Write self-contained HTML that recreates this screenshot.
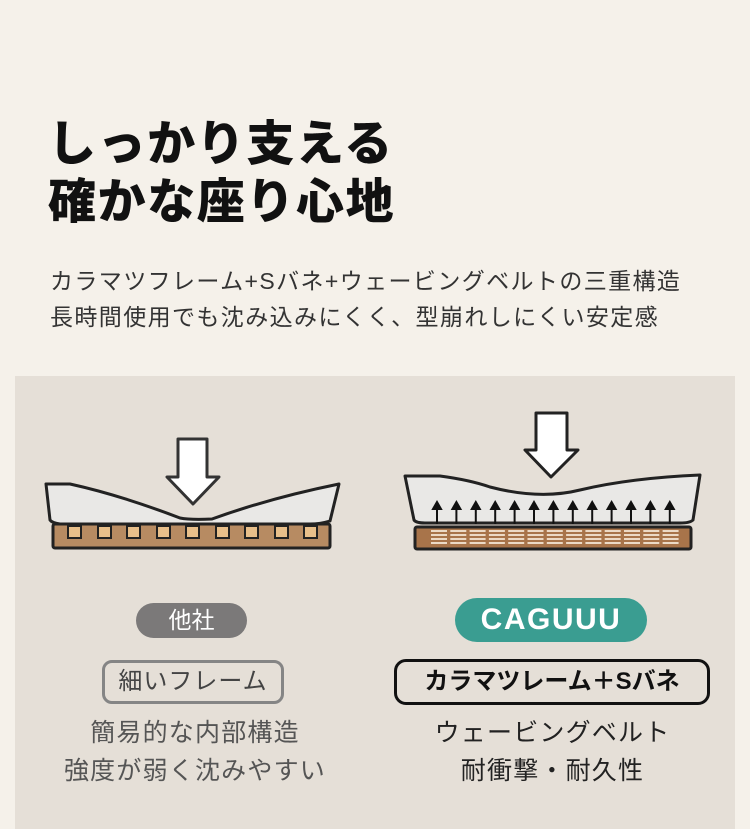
<!DOCTYPE html>
<html><head><meta charset="utf-8"><style>
*{margin:0;padding:0;box-sizing:border-box}
body{width:750px;height:829px;background:#f5f1ea;position:relative;overflow:hidden;font-family:"Liberation Sans","Noto Sans CJK JP",sans-serif}
.a{position:absolute;white-space:nowrap}
h1{position:absolute;left:48px;top:116px;font-size:48px;line-height:58px;font-weight:900;color:#111;letter-spacing:1.6px}
.sub{left:50px;font-size:23px;color:#333;letter-spacing:1.4px}
.panel{position:absolute;left:15px;top:376px;width:720px;height:453px;background:#e5dfd7}
.c{text-align:center}
</style></head><body>
<h1>しっかり支える<br>確かな座り心地</h1>
<div class="a sub" style="top:262px">カラマツフレーム+Sバネ+ウェービングベルトの三重構造</div>
<div class="a sub" style="top:298px">長時間使用でも沈み込みにくく、型崩れしにくい安定感</div>
<div class="panel"></div>
<svg class="a" style="left:0;top:0" width="750" height="829">
<rect x="53" y="524" width="277" height="24" rx="2" fill="#b78b62" stroke="#222" stroke-width="3"/>
<g fill="#e8bf8a" stroke="#222" stroke-width="2">
<rect x="68" y="526" width="13" height="12"/><rect x="98" y="526" width="13" height="12"/><rect x="127" y="526" width="13" height="12"/><rect x="157" y="526" width="13" height="12"/><rect x="186" y="526" width="13" height="12"/><rect x="216" y="526" width="13" height="12"/><rect x="245" y="526" width="13" height="12"/><rect x="275" y="526" width="13" height="12"/><rect x="304" y="526" width="13" height="12"/>
</g>
<path d="M46 484 L70 484 Q120 495 180 518 Q190 520 212 519 Q270 498 339 484 L330 521 Q320 524 310 524 L60 524 Q52 523 50 520 Z" fill="#e9e8e6" stroke="#222" stroke-width="3" stroke-linejoin="round"/>
<path d="M178 439 L207 439 L207 477 L219 477 L193 504 L167 477 L178 477 Z" fill="#fff" stroke="#333" stroke-width="3" stroke-linejoin="round"/>
<rect x="415" y="527" width="276" height="22" rx="2" fill="#a8744a" stroke="#222" stroke-width="3"/>
<g stroke="#f5e8d8" stroke-width="1.8" fill="none">
<g id="sp"><path d="M431 531h16M431 535h16M431 539h16M431 543h16"/></g>
<use href="#sp" x="19.3"/><use href="#sp" x="38.6"/><use href="#sp" x="57.9"/><use href="#sp" x="77.2"/><use href="#sp" x="96.5"/><use href="#sp" x="115.8"/><use href="#sp" x="135.1"/><use href="#sp" x="154.4"/><use href="#sp" x="173.7"/><use href="#sp" x="193"/><use href="#sp" x="212.3"/><use href="#sp" x="231.6"/>
</g>
<path d="M405 476 L440 476 Q470 480 490 487 Q540 500 580 490 Q630 478 700 475 L693 520 Q690 523 680 523 L425 523 Q416 523 414 520 Z" fill="#e9e8e6" stroke="#222" stroke-width="3" stroke-linejoin="round"/>
<g stroke="#111" stroke-width="2" fill="#111">
<g id="ar"><line x1="437" y1="507" x2="437" y2="524"/><path d="M433 509 L437 502 L441 509 Z"/></g>
<use href="#ar" x="19.4"/><use href="#ar" x="38.8"/><use href="#ar" x="58.2"/><use href="#ar" x="77.6"/><use href="#ar" x="97"/><use href="#ar" x="116.4"/><use href="#ar" x="135.8"/><use href="#ar" x="155.2"/><use href="#ar" x="174.6"/><use href="#ar" x="194"/><use href="#ar" x="213.4"/><use href="#ar" x="232.8"/>
</g>
<path d="M536 413 L567 413 L567 450 L578 450 L551 477 L525 450 L536 450 Z" fill="#fff" stroke="#222" stroke-width="3" stroke-linejoin="round"/>
</svg>
<div class="a c" style="left:136px;top:603px;width:111px;height:35px;border-radius:18px;background:#7b7979;color:#fff;font-size:23px;line-height:35px">他社</div>
<div class="a c" style="left:455px;top:598px;width:192px;height:44px;border-radius:22px;background:#3a9d91;color:#fff;font-size:30px;font-weight:900;line-height:44px;letter-spacing:1.5px">CAGUUU</div>
<div class="a c" style="left:102px;top:660px;width:182px;height:44px;border-radius:10px;border:3px solid #858585;color:#444;font-size:24px;line-height:38px;letter-spacing:1px">細いフレーム</div>
<div class="a c" style="left:394px;top:659px;width:316px;height:46px;border-radius:12px;border:3px solid #111;color:#111;font-size:24px;font-weight:bold;line-height:40px">カラマツレーム＋Sバネ</div>
<div class="a c" style="left:45px;top:714px;width:300px;font-size:25px;line-height:38px;color:#555;letter-spacing:1.2px">簡易的な内部構造<br>強度が弱く沈みやすい</div>
<div class="a c" style="left:400px;top:714px;width:305px;font-size:25px;line-height:38px;color:#222;letter-spacing:1.2px">ウェービングベルト<br>耐衝撃・耐久性</div>
</body></html>
